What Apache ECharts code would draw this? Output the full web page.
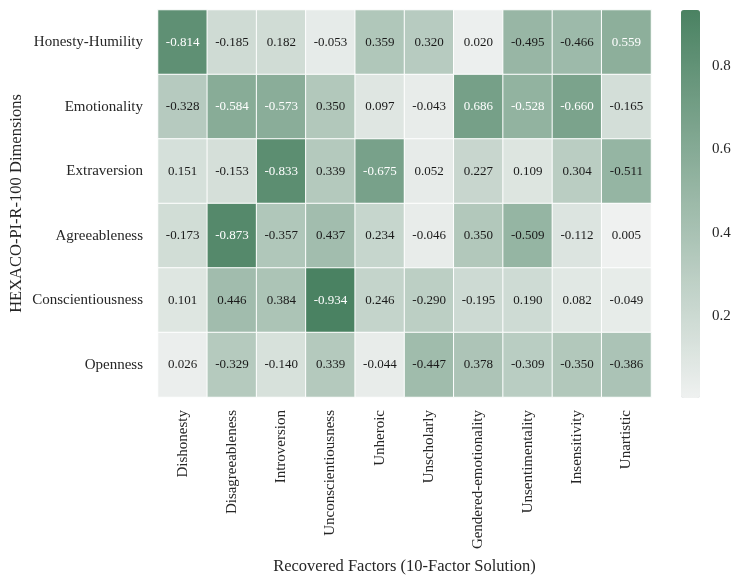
<!DOCTYPE html>
<html><head><meta charset="utf-8">
<script src="https://cdn.jsdelivr.net/npm/echarts@6/dist/echarts.min.js"></script>
<style>html,body{margin:0;padding:0;background:#fff}#c{width:743px;height:584px}</style>
</head><body><div id="c"></div>
<script>
const factors = ['Dishonesty','Disagreeableness','Introversion','Unconscientiousness','Unheroic','Unscholarly','Gendered-emotionality','Unsentimentality','Insensitivity','Unartistic'];
const dimensions = ['Honesty-Humility','Emotionality','Extraversion','Agreeableness','Conscientiousness','Openness'];
const honesty = [-0.814,-0.185,0.182,-0.053,0.359,0.320,0.020,-0.495,-0.466,0.559];
const emotionality = [-0.328,-0.584,-0.573,0.350,0.097,-0.043,0.686,-0.528,-0.660,-0.165];
const extraversion = [0.151,-0.153,-0.833,0.339,-0.675,0.052,0.227,0.109,0.304,-0.511];
const agreeableness = [-0.173,-0.873,-0.357,0.437,0.234,-0.046,0.350,-0.509,-0.112,0.005];
const conscientiousness = [0.101,0.446,0.384,-0.934,0.246,-0.290,-0.195,0.190,0.082,-0.049];
const openness = [0.026,-0.329,-0.140,0.339,-0.044,-0.447,0.378,-0.309,-0.350,-0.386];
const colorbarTicks = [0.2,0.4,0.6,0.8];

const rows = [honesty, emotionality, extraversion, agreeableness, conscientiousness, openness];
const data = [];
rows.forEach((r, yi) => r.forEach((v, xi) => {
  data.push({value:[xi, yi, Math.abs(v), v], label:{color: Math.abs(v) > 0.52 ? '#ffffff' : '#1a1a1a'}});
}));
const allAbs = rows.flat().map(Math.abs);
const vmin = Math.min(...allAbs), vmax = Math.max(...allAbs);
const FONT = 'Liberation Serif';
const chart = echarts.init(document.getElementById('c'), null, {renderer:'canvas'});
chart.setOption({
  animation:false,
  textStyle:{fontFamily:FONT},
  grid:[
    {left:158, right:92, top:10, bottom:187, outerBoundsMode:'none', containLabel:false},
    {left:681, width:19, top:10, height:388, outerBoundsMode:'none', containLabel:false}
  ],
  xAxis:[
    {type:'category', data:factors, gridIndex:0, position:'bottom',
     axisLine:{show:false}, axisTick:{show:false}, splitLine:{show:false},
     axisLabel:{rotate:90, interval:0, fontFamily:FONT, fontSize:15, color:'#262626', margin:13},
     name:'Recovered Factors (10-Factor Solution)', nameLocation:'middle', nameGap:161, nameMoveOverlap:false,
     nameTextStyle:{fontFamily:FONT, fontSize:16.5, color:'#262626'}},
    {type:'value', gridIndex:1, show:false, min:0, max:1}
  ],
  yAxis:[
    {type:'category', data:dimensions, inverse:true, gridIndex:0,
     axisLine:{show:false}, axisTick:{show:false}, splitLine:{show:false},
     axisLabel:{interval:0, fontFamily:FONT, fontSize:15, color:'#262626', margin:15},
     name:'HEXACO-PI-R-100 Dimensions', nameLocation:'middle', nameGap:133, nameMoveOverlap:false,
     nameTextStyle:{fontFamily:FONT, fontSize:16.5, color:'#262626'}},
    {type:'value', gridIndex:1, position:'right', min:vmin, max:vmax,
     axisLine:{show:false}, splitLine:{show:false},
     axisTick:{show:true, length:4, inside:false, lineStyle:{color:'#262626', width:1.2}, customValues:colorbarTicks},
     axisLabel:{show:true, fontFamily:FONT, fontSize:15, color:'#262626', margin:12, customValues:colorbarTicks,
       formatter:v=>v.toFixed(1)}}
  ],
  visualMap:{
    type:'continuous', min:vmin, max:vmax, dimension:2, seriesIndex:0,
    calculable:false, show:true, left:681, top:10, itemWidth:19, itemHeight:388, padding:0,
    text:null, showLabel:false, orient:'vertical', align:'right',
    inRange:{color:['#eff1f0','#4a8262']}
  },
  series:[{
    type:'heatmap', data:data, xAxisIndex:0, yAxisIndex:0,
    itemStyle:{borderColor:'#ffffff', borderWidth:1},
    label:{show:true, fontFamily:FONT, fontSize:13, formatter:p=>p.value[3].toFixed(3)},
    emphasis:{disabled:true}
  }]
});
</script></body></html>
